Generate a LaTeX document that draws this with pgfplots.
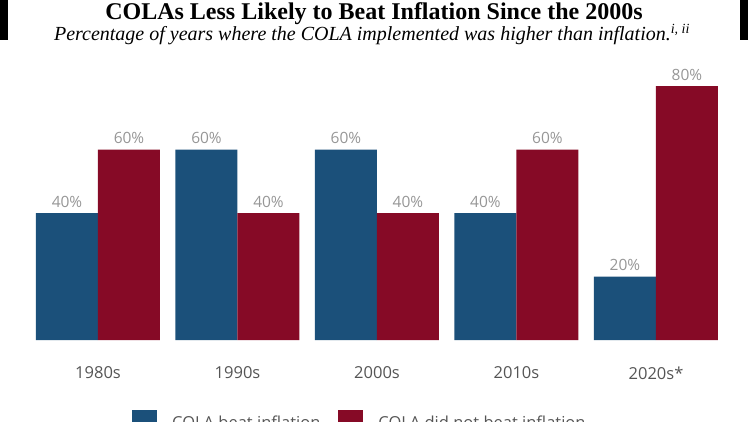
\documentclass[border=0pt]{standalone}
\usepackage{pgfplots}
\pgfplotsset{compat=1.18}
\usepackage{fontspec}
\setmainfont{Open Sans}
\newfontfamily\titlefont{Liberation Serif}
\definecolor{colblue}{RGB}{27,80,122}
\definecolor{colred}{RGB}{134,10,38}
\definecolor{lblgray}{RGB}{150,150,150}
\definecolor{tickgray}{RGB}{85,85,85}
\begin{document}
\begin{tikzpicture}[x=1pt,y=1pt]
\useasboundingbox (0pt,0pt) rectangle (748pt,421pt);
\clip (0pt,0pt) rectangle (748pt,421pt);
\fill[black] (0pt,381pt) rectangle (8pt,421pt);
\fill[black] (740pt,381pt) rectangle (748pt,421pt);
\node[anchor=base, inner sep=0pt, font=\titlefont\bfseries\fontsize{24}{28}\selectfont] at (374pt,401.5pt) {COLAs Less Likely to Beat Inflation Since the 2000s};
\node[anchor=base, inner sep=0pt, font=\titlefont\itshape\fontsize{20}{24}\selectfont] at (372pt,380pt) {Percentage of years where the COLA implemented was higher than inflation.\textsuperscript{i, ii}};
\begin{axis}[
  at={(0.35pt,81pt)}, anchor=south west, scale only axis,
  width=746.3pt, height=285.75pt,
  xmin=-0.7, xmax=4.65, ymin=0, ymax=90,
  axis line style={draw=none},
  ymajorticks=false,
  xtick={0,1,2,3,4},
  xticklabels={1980s,1990s,2000s,2010s,2020s*},
  xtick style={draw=none},
  /pgf/number format/assume math mode=true,
  xticklabel style={font=\fontsize{16.5}{19}\selectfont, text=tickgray, yshift=-19pt},
  ybar, bar width=62pt,
  nodes near coords={\pgfmathprintnumber{\pgfplotspointmeta}\%},
  nodes near coords style={font=\fontsize{15.5}{18}\selectfont, text=lblgray, yshift=2pt},
  legend image code/.code={\fill[#1] (0pt,-12pt) rectangle (25pt,13pt); \path (38pt,0pt);},
  legend style={at={(axis description cs:0.1764,-0.29)}, anchor=west, draw=none, fill=none,
    legend columns=2, font=\fontsize{16.5}{19}\selectfont, text=tickgray, inner sep=0pt,
    /tikz/every even column/.append style={column sep=16pt}},
  legend cell align=left,
]
\addplot[fill=colblue, draw=none, bar shift=-31pt] coordinates {(0,40) (1,60) (2,60) (3,40) (4,20)};
\addplot[fill=colred, draw=none, bar shift=31pt] coordinates {(0,60) (1,40) (2,40) (3,60) (4,80)};
\legend{COLA beat inflation, COLA did not beat inflation}
\end{axis}
\end{tikzpicture}
\end{document}
